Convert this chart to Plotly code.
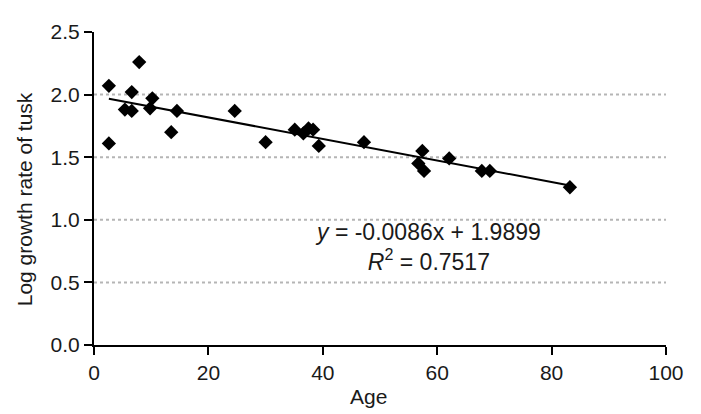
import plotly.graph_objects as go

# ---- data ----
age = [2.6, 7.9, 6.6, 10.2, 5.4, 6.6, 9.8, 14.5, 13.5, 2.6,
       24.6, 30.0, 35.1, 36.6, 37.5, 38.3, 39.3, 47.2,
       57.4, 56.7, 57.7, 62.1, 67.8, 69.2, 83.2]
log_growth = [2.07, 2.26, 2.02, 1.97, 1.88, 1.87, 1.89, 1.87, 1.70, 1.61,
              1.87, 1.62, 1.72, 1.69, 1.73, 1.72, 1.59, 1.62,
              1.55, 1.45, 1.39, 1.49, 1.39, 1.39, 1.26]

slope = -0.0086
intercept = 1.9899
r_squared = 0.7517

x_ticks = [0, 20, 40, 60, 80, 100]
y_ticks = [0.0, 0.5, 1.0, 1.5, 2.0, 2.5]
grid_y = [0.5, 1.0, 1.5, 2.0]

x_title = "Age"
y_title = "Log growth rate of tusk"

FONT = "Liberation Sans, Arial, sans-serif"
TXT = "#1a1a1a"

fit_x = [min(age), max(age)]
fit_y = [slope * v + intercept for v in fit_x]

fig = go.Figure()
fig.add_trace(go.Scatter(
    x=fit_x, y=fit_y, mode="lines",
    line=dict(color="black", width=2),
    showlegend=False,
))
fig.add_trace(go.Scatter(
    x=age, y=log_growth, mode="markers",
    marker=dict(symbol="diamond", size=11, color="black"),
    showlegend=False, cliponaxis=False,
))

for gy in grid_y:
    fig.add_shape(type="line", xref="paper", yref="y", x0=0, x1=1, y0=gy, y1=gy,
                  line=dict(color="#b5b5b5", width=2, dash="dot"), layer="below")

fig.add_annotation(
    x=58.4, y=0.78, xref="x", yref="y",
    text=f"<i>y</i> = {slope}x + {intercept}<br><i>R</i><sup>2</sup> = {r_squared}",
    showarrow=False, xanchor="center", yanchor="middle", align="center",
    font=dict(family=FONT, size=23, color=TXT),
)
# axis titles
fig.add_annotation(
    x=0.48, y=0, xref="paper", yref="paper", yshift=-38,
    text=x_title, showarrow=False, xanchor="center", yanchor="top",
    font=dict(family=FONT, size=21, color=TXT),
)
fig.add_annotation(
    x=0, y=0.464, xref="paper", yref="paper", xshift=-83,
    text=y_title, textangle=-90, showarrow=False, xanchor="left", yanchor="middle",
    font=dict(family=FONT, size=21, color=TXT),
)

# page body has an 8px margin: shift margins so the plot area lands at x 94-666, y 22-345
fig.update_layout(
    width=701, height=414,
    margin=dict(l=86, r=43, t=14, b=77),
    plot_bgcolor="white", paper_bgcolor="white",
    font=dict(family=FONT, color=TXT),
)
fig.update_xaxes(
    range=[0, 100], tickvals=x_ticks, showgrid=False, zeroline=False,
    showline=True, linecolor="black", linewidth=2,
    ticks="outside", ticklen=8, tickwidth=2, tickcolor="black",
    tickfont=dict(size=21, color=TXT),
)
fig.update_yaxes(
    range=[0, 2.5], tickvals=y_ticks, tickformat=".1f", showgrid=False, zeroline=False,
    showline=True, linecolor="black", linewidth=2,
    ticks="outside", ticklen=8, tickwidth=2, tickcolor="black",
    tickfont=dict(size=21, color=TXT),
)

fig.write_html("out.html")
